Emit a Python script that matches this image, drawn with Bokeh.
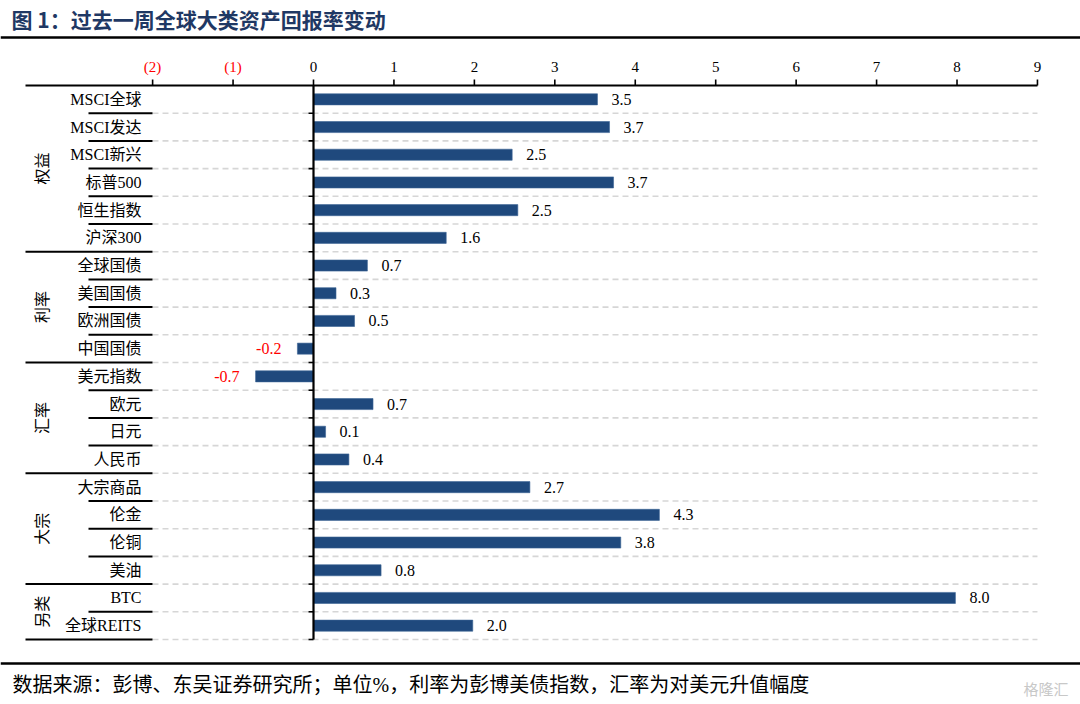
import math
from bokeh.plotting import figure
from bokeh.models import Range1d, ColumnDataSource
from bokeh.core.properties import value
from bokeh.embed import file_html
from bokeh.resources import INLINE

# ---------------- data ----------------
title_text = "图 1：过去一周全球大类资产回报率变动"
footer_text = "数据来源：彭博、东吴证券研究所；单位%，利率为彭博美债指数，汇率为对美元升值幅度"
groups = ["权益", "利率", "汇率", "大宗", "另类"]
group_sizes = [6, 4, 4, 4, 2]
categories = ["MSCI全球", "MSCI发达", "MSCI新兴", "标普500", "恒生指数", "沪深300",
              "全球国债", "美国国债", "欧洲国债", "中国国债",
              "美元指数", "欧元", "日元", "人民币",
              "大宗商品", "伦金", "伦铜", "美油",
              "BTC", "全球REITS"]
values = [3.53, 3.68, 2.47, 3.73, 2.54, 1.65,
          0.67, 0.28, 0.51, -0.20,
          -0.72, 0.74, 0.15, 0.44,
          2.69, 4.30, 3.82, 0.84,
          7.98, 1.98]
ticks = [-2, -1, 0, 1, 2, 3, 4, 5, 6, 7, 8, 9]
tick_labels = ["(2)", "(1)", "0", "1", "2", "3", "4", "5", "6", "7", "8", "9"]

# ---------------- layout (page pixels -> data units) ----------------
W, H = 1080, 704
M = 0
X0, UNIT = 313.0, 80.44   # page x of value 0, pixels per unit
Y0, ROW = 85.0, 27.7      # page y of top axis, pixels per row


def dx(px):
    return (px - X0) / UNIT


def dy(py):
    return (py - Y0) / ROW - 0.5


SERIF = value("'Liberation Serif', 'Noto Sans CJK SC'")
CJK = value("'Noto Sans CJK SC'")
BAR = "#1F497D"

p = figure(width=W, height=H,
           x_range=Range1d(dx(M), dx(M + W)),
           y_range=Range1d(dy(M + H), dy(M)),
           min_border=0, toolbar_location=None, output_backend="svg",
           x_axis_location=None, y_axis_location=None,
           outline_line_color=None, background_fill_color="white",
           border_fill_color="white")
p.grid.visible = False

n = len(categories)
idx = list(range(n))
xmax = ticks[-1]
x_left = dx(25)
x_lab_right = dx(152)
x_sep_short = dx(88)

# group boundaries
bounds = []
acc = 0
for s in group_sizes:
    acc += s
    bounds.append(acc)

# dashed grid lines at row boundaries
kb = list(range(1, n + 1))
p.segment(x0=[x_lab_right] * len(kb), x1=[xmax] * len(kb),
          y0=[k - 0.5 for k in kb], y1=[k - 0.5 for k in kb],
          line_color="#d6d6d6", line_width=1.6, line_dash="6 4")

# black separators in label area
sx0 = [x_left if k in bounds else x_sep_short for k in kb]
p.segment(x0=sx0, x1=[x_lab_right] * len(kb),
          y0=[k - 0.5 for k in kb], y1=[k - 0.5 for k in kb],
          line_color="black", line_width=2)

# bars
src = ColumnDataSource(dict(y=idx, v=values,
                            lab=[f"{v:.1f}" for v in values]))
p.hbar(y="y", left=0, right="v", height=0.4, source=src,
       fill_color=BAR, line_color="#3d6496", line_width=0.6)

# value labels
pos = [i for i in idx if values[i] >= 0]
neg = [i for i in idx if values[i] < 0]
p.text(x=[values[i] + dx(X0 + 14) for i in pos], y=pos,
       text=[f"{values[i]:.1f}" for i in pos],
       text_align="left", text_baseline="middle", text_font=SERIF,
       text_font_size="16px", text_color="black")
p.text(x=[values[i] - dx(X0 + 16) for i in neg], y=neg,
       text=[f"{values[i]:.1f}" for i in neg],
       text_align="right", text_baseline="middle", text_font=SERIF,
       text_font_size="16px", text_color="red")

# top axis
p.segment(x0=[x_left], x1=[xmax], y0=[-0.5], y1=[-0.5],
          line_color="black", line_width=2.2)
p.segment(x0=ticks, x1=ticks, y0=[-0.5] * len(ticks),
          y1=[dy(Y0 - 6)] * len(ticks), line_color="black", line_width=1.6)
p.text(x=ticks, y=[dy(66)] * len(ticks), text=tick_labels,
       text_align="center", text_baseline="middle", text_font=SERIF,
       text_font_size="15px",
       text_color=["red" if t < 0 else "black" for t in ticks])

# zero axis and its ticks
p.segment(x0=[0], x1=[0], y0=[-0.5], y1=[n - 0.5],
          line_color="black", line_width=2.2)
p.segment(x0=[0] * len(kb), x1=[dx(X0 - 5)] * len(kb),
          y0=[k - 0.5 for k in kb], y1=[k - 0.5 for k in kb],
          line_color="black", line_width=1.6)

# category labels
p.text(x=[dx(141)] * n, y=idx, text=categories,
       text_align="right", text_baseline="middle", text_font=SERIF,
       text_font_size="16px", text_color="black")

# group labels (rotated)
gy = []
start = 0
for s in group_sizes:
    gy.append(start + (s - 1) / 2)
    start += s
p.text(x=[dx(40)] * len(groups), y=gy, text=groups, angle=math.pi / 2,
       text_align="center", text_baseline="middle", text_font=CJK,
       text_font_size="16px", text_color="black")

# title, rules, footer
p.text(x=[dx(11)], y=[dy(18)], text=[title_text], text_align="left",
       text_baseline="middle", text_font=CJK, text_font_size="21px",
       text_font_style="bold", text_color="#1F3864")
p.segment(x0=[dx(M)], x1=[dx(M + W)], y0=[dy(37)], y1=[dy(37)],
          line_color="black", line_width=2.5)
p.segment(x0=[dx(M)], x1=[dx(M + W)], y0=[dy(663)], y1=[dy(663)],
          line_color="black", line_width=2.5)
p.text(x=[dx(12)], y=[dy(684)], text=[footer_text], text_align="left",
       text_baseline="middle", text_font=SERIF, text_font_size="20px",
       text_color="black")
p.text(x=[dx(1068)], y=[dy(688)], text=["格隆汇"], text_align="right",
       text_baseline="middle", text_font=CJK, text_font_size="15px",
       text_color="#c8c8c8")

open("out.html", "w").write(file_html(p, INLINE))
